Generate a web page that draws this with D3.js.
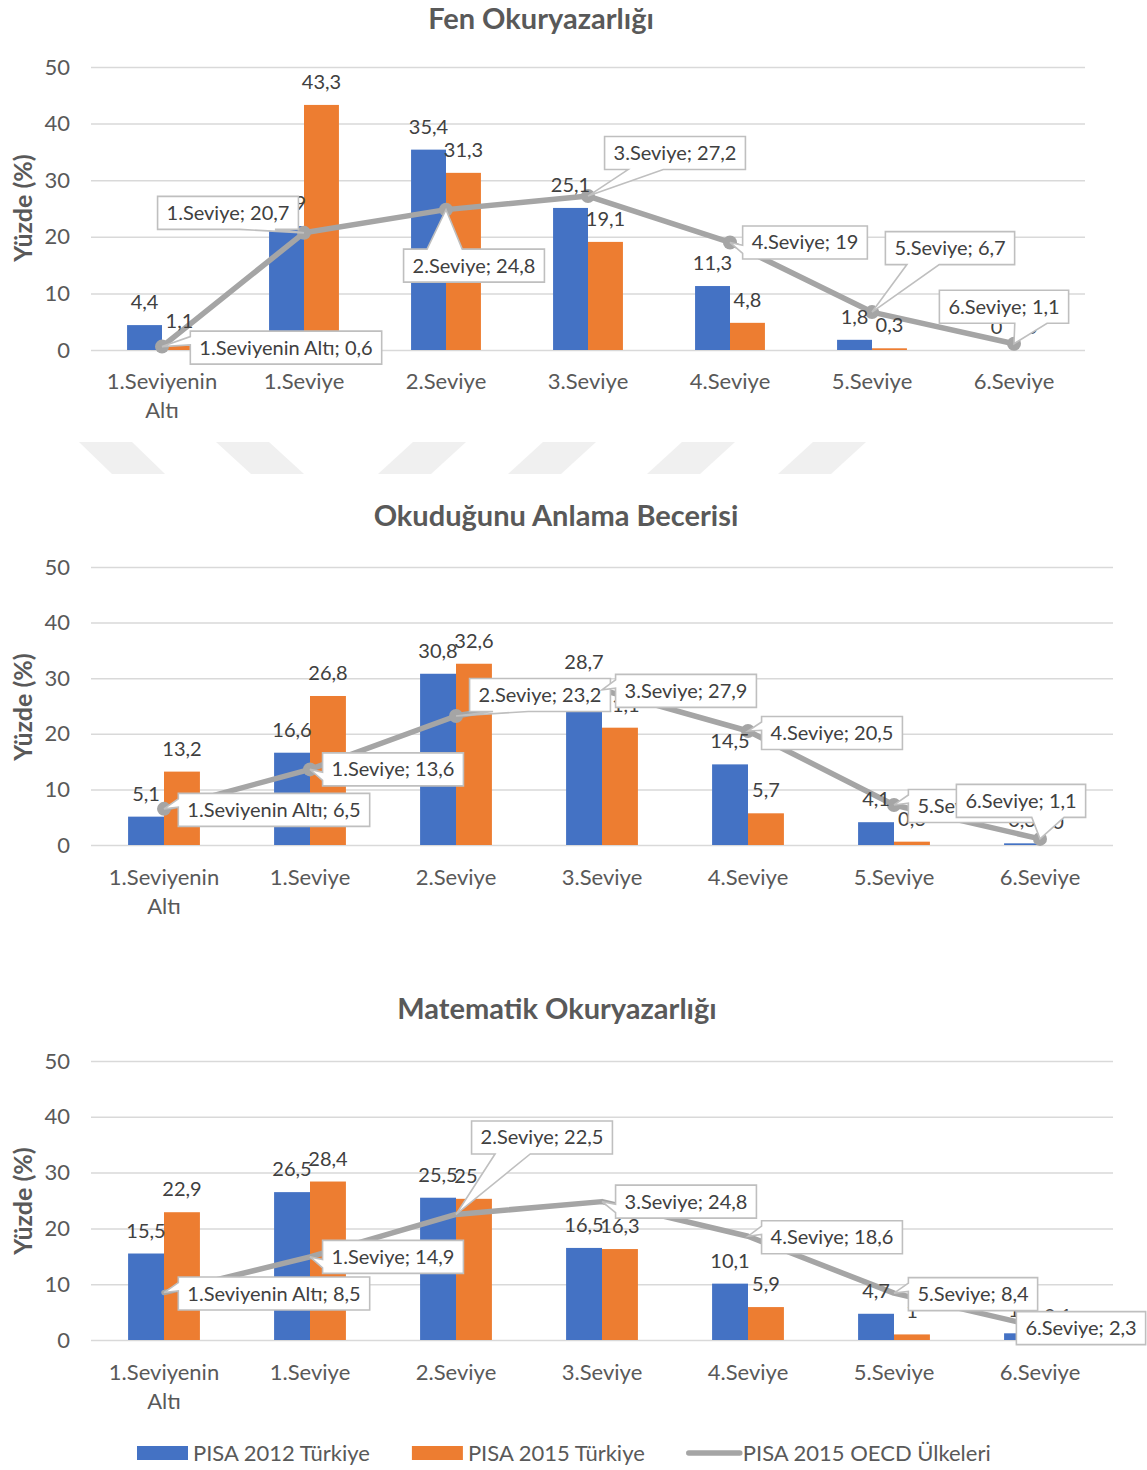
<!DOCTYPE html>
<html>
<head>
<meta charset="utf-8">
<script src="https://cdn.jsdelivr.net/npm/d3@7"></script>
<style>
  html, body { margin: 0; padding: 0; background: #ffffff; }
  svg { display: block; font-family: Lato, "Open Sans", sans-serif; }
</style>
</head>
<body>
<svg id="chart" width="1147" height="1470"></svg>
<script>
// ---- data -------------------------------------------------------------
const levels = ["1.Seviyenin Altı", "1.Seviye", "2.Seviye", "3.Seviye", "4.Seviye", "5.Seviye", "6.Seviye"];
const seriesNames = ["PISA 2012 Türkiye", "PISA 2015 Türkiye", "PISA 2015 OECD Ülkeleri"];
const panelTitles = ["Fen Okuryazarlığı", "Okuduğunu Anlama Becerisi", "Matematik Okuryazarlığı"];
const yTicks = [0, 10, 20, 30, 40, 50];
const yAxisTitle = "Yüzde (%)";

const fenTR2012 = [4.4, 21.9, 35.4, 25.1, 11.3, 1.8, 0];
const fenTR2015 = [1.1, 43.3, 31.3, 19.1, 4.8, 0.3, 0];
const fenOECD   = [0.6, 20.7, 24.8, 27.2, 19, 6.7, 1.1];

const okuTR2012 = [5.1, 16.6, 30.8, 28.7, 14.5, 4.1, 0.3];
const okuTR2015 = [13.2, 26.8, 32.6, 21.1, 5.7, 0.6, 0];
const okuOECD   = [6.5, 13.6, 23.2, 27.9, 20.5, 7.2, 1.1];

const matTR2012 = [15.5, 26.5, 25.5, 16.5, 10.1, 4.7, 1.2];
const matTR2015 = [22.9, 28.4, 25.3, 16.3, 5.9, 1, 0.1];
const matOECD   = [8.5, 14.9, 22.5, 24.8, 18.6, 8.4, 2.3];

// ---- layout -------------------------------------------------------------
// callout box centre, relative to the OECD point it points at
const fenCallouts = [[124, 1], [-76, -20], [28, 56], [87, -43], [75, 0], [78, -64], [-10, -37]];
const okuCallouts = [[110, 1], [83, 0], [84, -21], [84, 1], [84, 2], [79, 1], [-19, -38]];
const matCallouts = [[110, 1], [83, 0], [86, -77], [84, 0], [84, 1], [79, 1], [41, 1]];

const colors = { tr2012: "#4472C4", tr2015: "#ED7D31", oecd: "#A5A5A5", grid: "#D9D9D9", axis: "#595959", label: "#404040", box: "#BFBFBF" };
const font = { tick: 22, cat: 22, title: 29, yTitle: 25, label: 20, callout: 20, legend: 22 };

const panels = [
  { title: panelTitles[0], a: fenTR2012, b: fenTR2015, line: fenOECD, callouts: fenCallouts,
    top: 67, bottom: 350, left: 91, right: 1085, titleX: 541, titleY: 19, yTitleY: 208, catY: 381, markers: true },
  { title: panelTitles[1], a: okuTR2012, b: okuTR2015, line: okuOECD, callouts: okuCallouts,
    top: 567, bottom: 845, left: 91, right: 1113, titleX: 556, titleY: 516, yTitleY: 707, catY: 877, markers: true },
  { title: panelTitles[2], a: matTR2012, b: matTR2015, line: matOECD, callouts: matCallouts,
    top: 1061, bottom: 1340, left: 91, right: 1113, titleX: 557, titleY: 1009, yTitleY: 1201, catY: 1372, markers: false }
];

const locale = d3.formatLocale({ decimal: ",", thousands: ".", grouping: [3], currency: ["", " ₺"] });
const fmt = locale.format(".1~f");

const svg = d3.select("#chart");

// faint watermark band between the first two panels
const stripes = [[79, 112], [216, 251], [413, 378], [543, 508], [682, 647], [813, 778]];
const wm = svg.append("g").attr("class", "watermark");
stripes.forEach(([tx, bx]) => {
  wm.append("path")
    .attr("d", `M${tx},442 L${tx + 53},442 L${bx + 53},474 L${bx},474 Z`)
    .attr("fill", "#F0F0F0");
});

// wedge-rectangle callout outline
function calloutPath(x0, y0, w, h, tx, ty) {
  const x1 = x0 + w, y1 = y0 + h, cx = x0 + w / 2, cy = y0 + h / 2;
  if (tx >= x0 && tx <= x1 && ty >= y0 && ty <= y1) {
    return `M${x0},${y0}H${x1}V${y1}H${x0}Z`;
  }
  const dxPos = tx - cx, dyPos = ty - cy;
  const dx = dxPos * h / w, dy = dyPos;
  if (Math.abs(dy) >= Math.abs(dx)) {
    const b0 = dxPos < 0 ? x0 + w / 6 : x0 + w * 7 / 12;
    const b1 = dxPos < 0 ? x0 + w * 5 / 12 : x0 + w * 5 / 6;
    if (dy < 0) return `M${x0},${y0}L${b0},${y0}L${tx},${ty}L${b1},${y0}L${x1},${y0}L${x1},${y1}L${x0},${y1}Z`;
    return `M${x0},${y0}L${x1},${y0}L${x1},${y1}L${b1},${y1}L${tx},${ty}L${b0},${y1}L${x0},${y1}Z`;
  }
  const b0 = dyPos < 0 ? y0 + h / 6 : y0 + h * 7 / 12;
  const b1 = dyPos < 0 ? y0 + h * 5 / 12 : y0 + h * 5 / 6;
  if (dx < 0) return `M${x0},${y0}L${x1},${y0}L${x1},${y1}L${x0},${y1}L${x0},${b1}L${tx},${ty}L${x0},${b0}Z`;
  return `M${x0},${y0}L${x1},${y0}L${x1},${b0}L${tx},${ty}L${x1},${b1}L${x1},${y1}L${x0},${y1}Z`;
}

function drawPanel(p) {
  const g = svg.append("g");
  const x = d3.scaleBand().domain(levels).range([p.left, p.right]);
  const bw = x.bandwidth() * 0.246;
  const xs = d3.scaleBand().domain(["a", "b"]).range([-bw, bw]);
  const y = d3.scaleLinear().domain([0, 50]).range([p.bottom, p.top]);
  const cxOf = d => x(d) + x.bandwidth() / 2;

  // gridlines + value axis labels
  const yAxis = d3.axisLeft(y).tickValues(yTicks).tickSize(-(p.right - p.left)).tickPadding(21).tickFormat(d3.format("d"));
  const ya = g.append("g").attr("transform", `translate(${p.left},0)`).call(yAxis);
  ya.select(".domain").remove();
  ya.selectAll(".tick line").attr("stroke", colors.grid).attr("stroke-width", 1.5);
  ya.selectAll(".tick text").attr("fill", colors.axis).attr("font-size", font.tick).attr("font-family", "Lato");

  // category labels
  const xAxis = d3.axisBottom(x).tickSize(0).tickPadding(0);
  const xa = g.append("g").attr("transform", `translate(0,${p.catY})`).call(xAxis);
  xa.select(".domain").remove();
  xa.selectAll(".tick text")
    .attr("fill", colors.axis).attr("font-size", font.cat).attr("font-family", "Lato")
    .attr("dy", "0.35em")
    .each(function (d) {
      const t = d3.select(this);
      if (this.getComputedTextLength() > x.bandwidth() * 0.95 && d.includes(" ")) {
        const cut = d.lastIndexOf(" ");
        t.text(null);
        t.append("tspan").attr("x", 0).attr("dy", "0.35em").text(d.slice(0, cut));
        t.append("tspan").attr("x", 0).attr("dy", 29).text(d.slice(cut + 1));
        t.attr("dy", null);
      }
    });

  // titles
  g.append("text").attr("x", p.titleX).attr("y", p.titleY).attr("dy", "0.35em")
    .attr("text-anchor", "middle").attr("font-weight", 700).attr("font-size", font.title)
    .attr("fill", colors.axis).text(p.title);
  g.append("text").attr("transform", `translate(23,${p.yTitleY}) rotate(-90)`).attr("dy", "0.35em")
    .attr("text-anchor", "middle").attr("font-weight", 700).attr("font-size", font.yTitle)
    .attr("fill", colors.axis).text(yAxisTitle);

  // bars
  const rows = levels.map((lv, i) => ({ lv, a: p.a[i], b: p.b[i], o: p.line[i] }));
  const groups = g.append("g").selectAll("g").data(rows).join("g")
    .attr("transform", d => `translate(${cxOf(d.lv)},0)`);
  groups.append("rect").attr("x", xs("a")).attr("width", xs.bandwidth())
    .attr("y", d => y(d.a)).attr("height", d => y(0) - y(d.a)).attr("fill", colors.tr2012);
  groups.append("rect").attr("x", xs("b")).attr("width", xs.bandwidth())
    .attr("y", d => y(d.b)).attr("height", d => y(0) - y(d.b)).attr("fill", colors.tr2015);

  // OECD line
  const line = d3.line().x(d => cxOf(d.lv)).y(d => y(d.o));
  g.append("path").datum(rows).attr("d", line).attr("fill", "none")
    .attr("stroke", colors.oecd).attr("stroke-width", 5.5)
    .attr("stroke-linejoin", "round").attr("stroke-linecap", "round");
  if (p.markers) {
    g.append("g").selectAll("circle").data(rows).join("circle")
      .attr("cx", d => cxOf(d.lv)).attr("cy", d => y(d.o)).attr("r", 7).attr("fill", colors.oecd);
  }

  // bar value labels
  const lab = g.append("g").attr("font-size", font.label).attr("fill", colors.label).attr("text-anchor", "middle");
  rows.forEach(d => {
    lab.append("text").attr("x", cxOf(d.lv) + xs("a") + xs.bandwidth() / 2).attr("y", y(d.a) - 23)
      .attr("dy", "0.35em").text(fmt(d.a));
    lab.append("text").attr("x", cxOf(d.lv) + xs("b") + xs.bandwidth() / 2).attr("y", y(d.b) - 23)
      .attr("dy", "0.35em").text(fmt(d.b));
  });

  // OECD callouts
  const cg = g.append("g");
  rows.forEach((d, i) => {
    const tx = cxOf(d.lv), ty = y(d.o);
    const [ox, oy] = p.callouts[i];
    const item = cg.append("g");
    const path = item.append("path");
    const txt = item.append("text").attr("font-size", font.callout).attr("fill", colors.label)
      .attr("text-anchor", "middle").attr("dy", "0.35em")
      .attr("x", tx + ox).attr("y", ty + oy).text(`${d.lv}; ${fmt(d.o)}`);
    const w = txt.node().getComputedTextLength() + 18, h = 33;
    path.attr("d", calloutPath(tx + ox - w / 2, ty + oy - h / 2, w, h, tx, ty))
      .attr("fill", "#ffffff").attr("stroke", colors.box).attr("stroke-width", 1.6)
      .attr("stroke-linejoin", "miter");
  });
}

panels.forEach(drawPanel);

// legend
const legend = svg.append("g").attr("font-size", font.legend).attr("fill", colors.axis);
const swatchKinds = ["tr2012", "tr2015", "oecd"];
let lx = 137;
const ly = 1453;
seriesNames.forEach((name, i) => {
  const kind = swatchKinds[i];
  if (kind === "oecd") {
    legend.append("line").attr("x1", lx + 2).attr("x2", lx + 53).attr("y1", ly).attr("y2", ly)
      .attr("stroke", colors.oecd).attr("stroke-width", 5.5).attr("stroke-linecap", "round");
  } else {
    legend.append("rect").attr("x", lx).attr("y", ly - 7).attr("width", 51).attr("height", 14)
      .attr("fill", colors[kind]);
  }
  const t = legend.append("text").attr("x", lx + 56).attr("y", ly).attr("dy", "0.35em").text(name);
  lx += 56 + t.node().getComputedTextLength() + 42;
});
</script>
</body>
</html>
